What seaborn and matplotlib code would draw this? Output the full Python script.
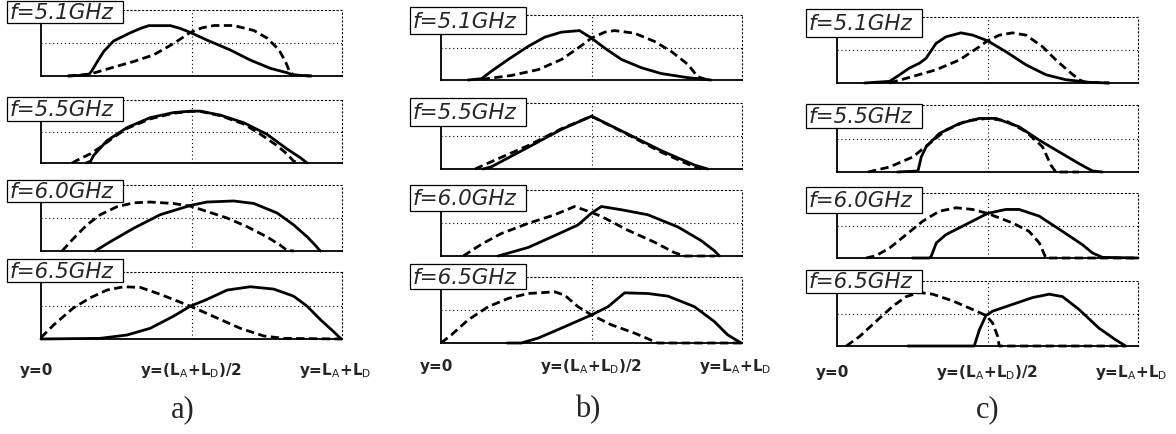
import matplotlib
matplotlib.use("Agg")
import matplotlib.pyplot as plt
import pandas as pd
import seaborn as sns
from matplotlib.patches import Rectangle

sns.set_style("white")
plt.rcParams["font.family"] = ["DejaVu Sans"]
plt.rcParams["mathtext.fontset"] = "dejavusans"

# ---------------------------------------------------------------- labels
FREQ_LABELS = ["f=5.1GHz", "f=5.5GHz", "f=6.0GHz", "f=6.5GHz"]
PANEL_LETTERS = ["a)", "b)", "c)"]
POSITION_LABELS = ["y=0", r"y=(L$_\mathrm{A}$+L$_\mathrm{D}$)/2", r"y=L$_\mathrm{A}$+L$_\mathrm{D}$"]

# ---------------------------------------------------------------- panel a
a51_solid_x = [0.09, 0.158, 0.169, 0.186, 0.208, 0.241, 0.297, 0.33, 0.358, 0.43, 0.463, 0.496, 0.551, 0.629, 0.695, 0.762, 0.817, 0.839, 0.895]
a51_solid_y = [0.0, 0.015, 0.08, 0.21, 0.37, 0.53, 0.655, 0.72, 0.763, 0.763, 0.72, 0.66, 0.545, 0.394, 0.242, 0.116, 0.05, 0.015, 0.0]
a51_dash_x = [0.09, 0.164, 0.231, 0.308, 0.374, 0.44, 0.496, 0.535, 0.575, 0.64, 0.707, 0.751, 0.79, 0.812, 0.826, 0.84, 0.9]
a51_dash_y = [0.0, 0.03, 0.12, 0.22, 0.32, 0.49, 0.66, 0.73, 0.765, 0.765, 0.69, 0.575, 0.4, 0.22, 0.065, 0.015, 0.0]

a55_solid_x = [0.15, 0.165, 0.175, 0.219, 0.286, 0.363, 0.44, 0.496, 0.529, 0.596, 0.673, 0.75, 0.817, 0.862, 0.884]
a55_solid_y = [0.0, 0.03, 0.12, 0.354, 0.5625, 0.72, 0.8, 0.823, 0.823, 0.76, 0.64, 0.458, 0.224, 0.083, 0.0]
a55_dash_x = [0.103, 0.13, 0.164, 0.197, 0.241, 0.286, 0.363, 0.44, 0.496, 0.529, 0.596, 0.673, 0.729, 0.784, 0.817, 0.839, 0.856]
a55_dash_y = [0.0, 0.068, 0.146, 0.25, 0.406, 0.55, 0.70, 0.79, 0.82, 0.82, 0.75, 0.62, 0.458, 0.276, 0.146, 0.03, 0.0]

a60_solid_x = [0.18, 0.23, 0.308, 0.396, 0.496, 0.551, 0.64, 0.707, 0.784, 0.839, 0.884, 0.911, 0.928]
a60_solid_y = [0.0, 0.14, 0.345, 0.55, 0.69, 0.742, 0.758, 0.72, 0.577, 0.397, 0.216, 0.088, 0.0]
a60_dash_x = [0.07, 0.108, 0.153, 0.197, 0.252, 0.308, 0.363, 0.44, 0.496, 0.551, 0.618, 0.684, 0.75, 0.795, 0.817, 0.84]
a60_dash_y = [0.0, 0.19, 0.397, 0.55, 0.67, 0.73, 0.742, 0.72, 0.68, 0.6, 0.5, 0.37, 0.216, 0.088, 0.01, 0.0]

a65_solid_x = [0.0, 0.197, 0.286, 0.363, 0.44, 0.496, 0.551, 0.618, 0.695, 0.773, 0.839, 0.884, 0.928, 0.972, 0.997]
a65_solid_y = [0.0, 0.01, 0.06, 0.16, 0.34, 0.49, 0.59, 0.73, 0.78, 0.745, 0.64, 0.49, 0.29, 0.11, 0.0]
a65_dash_x = [0.0, 0.042, 0.108, 0.164, 0.219, 0.275, 0.33, 0.396, 0.496, 0.585, 0.662, 0.74, 0.806, 1.0]
a65_dash_y = [0.02, 0.21, 0.465, 0.616, 0.73, 0.78, 0.77, 0.667, 0.49, 0.313, 0.16, 0.045, 0.01, 0.0]

# ---------------------------------------------------------------- panel b
b51_solid_x = [0.09, 0.135, 0.168, 0.223, 0.29, 0.345, 0.4, 0.46, 0.5, 0.544, 0.6, 0.665, 0.731, 0.82, 0.897]
b51_solid_y = [0.0, 0.02, 0.137, 0.315, 0.518, 0.66, 0.736, 0.76, 0.645, 0.49, 0.315, 0.19, 0.1, 0.036, 0.0]
b51_dash_x = [0.135, 0.234, 0.323, 0.4, 0.455, 0.5, 0.544, 0.577, 0.643, 0.709, 0.765, 0.82, 0.853, 0.886]
b51_dash_y = [0.01, 0.07, 0.16, 0.315, 0.49, 0.645, 0.736, 0.76, 0.72, 0.594, 0.44, 0.24, 0.05, 0.0]

b55_solid_x = [0.14, 0.168, 0.29, 0.4, 0.5, 0.621, 0.731, 0.842, 0.886]
b55_solid_y = [0.0, 0.035, 0.33, 0.6, 0.8, 0.53, 0.28, 0.06, 0.0]
b55_dash_x = [0.113, 0.179, 0.29, 0.4, 0.5, 0.621, 0.731, 0.82, 0.864]
b55_dash_y = [0.0, 0.134, 0.356, 0.61, 0.8, 0.52, 0.257, 0.074, 0.0]

b60_solid_x = [0.19, 0.29, 0.378, 0.455, 0.5, 0.533, 0.6, 0.687, 0.787, 0.864, 0.908, 0.925]
b60_solid_y = [0.0, 0.13, 0.31, 0.47, 0.65, 0.75, 0.7, 0.625, 0.44, 0.234, 0.08, 0.0]
b60_dash_x = [0.074, 0.135, 0.2, 0.29, 0.378, 0.444, 0.5, 0.533, 0.621, 0.709, 0.776, 0.809, 0.91]
b60_dash_y = [0.0, 0.18, 0.34, 0.495, 0.625, 0.75, 0.66, 0.6, 0.39, 0.21, 0.05, 0.0, 0.0]

b65_solid_x = [0.22, 0.267, 0.323, 0.4, 0.5, 0.555, 0.61, 0.687, 0.754, 0.842, 0.908, 0.952, 0.997]
b65_solid_y = [0.0, 0.0, 0.075, 0.225, 0.425, 0.55, 0.76, 0.75, 0.71, 0.55, 0.325, 0.125, 0.0]
b65_dash_x = [0.0, 0.035, 0.09, 0.157, 0.223, 0.29, 0.378, 0.411, 0.455, 0.5, 0.566, 0.643, 0.72, 1.0]
b65_dash_y = [0.0, 0.125, 0.35, 0.55, 0.675, 0.75, 0.775, 0.725, 0.55, 0.425, 0.275, 0.15, 0.0, 0.0]

# ---------------------------------------------------------------- panel c
c51_solid_x = [0.092, 0.175, 0.208, 0.24, 0.274, 0.296, 0.329, 0.362, 0.412, 0.451, 0.5, 0.561, 0.628, 0.694, 0.76, 0.838, 0.904]
c51_solid_y = [0.0, 0.025, 0.125, 0.225, 0.3, 0.375, 0.6, 0.7, 0.76, 0.725, 0.64, 0.475, 0.275, 0.125, 0.05, 0.01, 0.0]
c51_dash_x = [0.175, 0.252, 0.329, 0.407, 0.473, 0.5, 0.539, 0.583, 0.628, 0.683, 0.727, 0.771, 0.804, 0.826, 0.904]
c51_dash_y = [0.0, 0.1, 0.2, 0.35, 0.55, 0.64, 0.725, 0.76, 0.725, 0.55, 0.35, 0.175, 0.05, 0.01, 0.0]

c55_solid_x = [0.2, 0.269, 0.28, 0.296, 0.34, 0.407, 0.473, 0.528, 0.605, 0.672, 0.738, 0.804, 0.849, 0.882]
c55_solid_y = [0.0, 0.015, 0.225, 0.375, 0.575, 0.725, 0.8, 0.8, 0.675, 0.475, 0.3, 0.125, 0.015, 0.0]
c55_dash_x = [0.103, 0.175, 0.252, 0.307, 0.362, 0.432, 0.5, 0.561, 0.628, 0.683, 0.711, 0.727, 0.804]
c55_dash_y = [0.0, 0.075, 0.225, 0.425, 0.625, 0.765, 0.8, 0.765, 0.6, 0.375, 0.1, 0.0, 0.0]

c60_solid_x = [0.25, 0.307, 0.313, 0.33, 0.362, 0.428, 0.5, 0.561, 0.605, 0.672, 0.749, 0.815, 0.849, 0.882, 1.0]
c60_solid_y = [0.0, 0.0, 0.026, 0.232, 0.36, 0.515, 0.686, 0.747, 0.747, 0.644, 0.41, 0.206, 0.077, 0.01, 0.0]
c60_dash_x = [0.097, 0.13, 0.175, 0.23, 0.285, 0.34, 0.396, 0.45, 0.5, 0.583, 0.638, 0.672, 0.694, 1.0]
c60_dash_y = [0.0, 0.036, 0.155, 0.36, 0.567, 0.72, 0.773, 0.747, 0.686, 0.54, 0.41, 0.232, 0.0, 0.0]

c65_solid_x = [0.235, 0.456, 0.473, 0.495, 0.517, 0.583, 0.65, 0.705, 0.749, 0.804, 0.87, 0.926, 0.959]
c65_solid_y = [0.0, 0.0, 0.25, 0.47, 0.536, 0.64, 0.745, 0.797, 0.76, 0.5625, 0.276, 0.094, 0.0]
c65_dash_x = [0.031, 0.075, 0.13, 0.186, 0.23, 0.274, 0.318, 0.385, 0.45, 0.495, 0.517, 0.534, 0.539, 0.959]
c65_dash_y = [0.0, 0.146, 0.38, 0.615, 0.76, 0.823, 0.797, 0.693, 0.5625, 0.47, 0.354, 0.146, 0.0, 0.0]

CURVES = {
    "a": [(a51_solid_x, a51_solid_y, a51_dash_x, a51_dash_y),
          (a55_solid_x, a55_solid_y, a55_dash_x, a55_dash_y),
          (a60_solid_x, a60_solid_y, a60_dash_x, a60_dash_y),
          (a65_solid_x, a65_solid_y, a65_dash_x, a65_dash_y)],
    "b": [(b51_solid_x, b51_solid_y, b51_dash_x, b51_dash_y),
          (b55_solid_x, b55_solid_y, b55_dash_x, b55_dash_y),
          (b60_solid_x, b60_solid_y, b60_dash_x, b60_dash_y),
          (b65_solid_x, b65_solid_y, b65_dash_x, b65_dash_y)],
    "c": [(c51_solid_x, c51_solid_y, c51_dash_x, c51_dash_y),
          (c55_solid_x, c55_solid_y, c55_dash_x, c55_dash_y),
          (c60_solid_x, c60_solid_y, c60_dash_x, c60_dash_y),
          (c65_solid_x, c65_solid_y, c65_dash_x, c65_dash_y)],
}

# ---------------------------------------------------------------- layout (pixels)
W, H = 1176, 434
AX_W = 301
AX_LEFT = {"a": 41, "b": 441, "c": 837}
AX_ROWS = {"a": [(10, 76), (100, 163), (185, 251), (272, 339)],
           "b": [(15, 80), (103, 169), (190, 256), (277, 343)],
           "c": [(17, 83), (105, 172), (193, 258), (281, 346)]}
BOX_W = 116
BOX_LEFT = {"a": 7, "b": 410, "c": 806}
BOX_ROWS = {"a": [(1, 23), (97, 121), (180, 202), (259, 282)],
            "b": [(7, 34), (98, 126), (185, 211), (264, 289)],
            "c": [(9, 37), (104, 128), (187, 213), (270, 293)]}
LABEL_ROW = {"a": 370, "b": 366, "c": 372}
LETTER_X = {"a": 183, "b": 588, "c": 988}
LETTER_Y = 410

DOT = (0, (1, 2.5))
DASH = (0, (3, 1.6))
LW = 2.0


def fx(px):
    return px / W


def fy(py):
    return 1 - py / H


fig = plt.figure(figsize=(W / 100, H / 100), dpi=100)
fig.patch.set_facecolor("white")

for p_i, panel in enumerate(["a", "b", "c"]):
    left = AX_LEFT[panel]
    for r_i, (top, bottom) in enumerate(AX_ROWS[panel]):
        ax = fig.add_axes([fx(left), fy(bottom), AX_W / W, (bottom - top) / H])
        sx, sy, dx, dy = CURVES[panel][r_i]
        sns.lineplot(data=pd.DataFrame({"pos": dx, "field": dy}), x="pos", y="field",
                     ax=ax, color="black", lw=LW, linestyle=DASH, sort=False,
                     estimator=None, clip_on=False, zorder=3)
        sns.lineplot(data=pd.DataFrame({"pos": sx, "field": sy}), x="pos", y="field",
                     ax=ax, color="black", lw=LW, sort=False,
                     estimator=None, clip_on=False, zorder=4)
        ax.set_xlim(0, 1)
        ax.set_ylim(0, 1)
        ax.set_xlabel("")
        ax.set_ylabel("")
        ax.set_xticks([0.5])
        ax.set_yticks([0.5])
        ax.set_axisbelow(True)
        ax.grid(True, color="black", lw=0.8, linestyle=DOT)
        ax.tick_params(length=0, labelbottom=False, labelleft=False)
        for side in ("left", "bottom"):
            ax.spines[side].set_color("black")
            ax.spines[side].set_linewidth(1.3)
        for side in ("top", "right"):
            ax.spines[side].set_color("black")
            ax.spines[side].set_linewidth(0.8)
            ax.spines[side].set_linestyle(DOT)

        # frequency tag
        bt, bb = BOX_ROWS[panel][r_i]
        bl = BOX_LEFT[panel]
        fig.add_artist(Rectangle((fx(bl), fy(bb)), BOX_W / W, (bb - bt) / H,
                                 transform=fig.transFigure, facecolor="white",
                                 edgecolor="black", lw=0.9, zorder=10))
        fig.text(fx(bl + 3), fy((bt + bb) / 2 + 1), FREQ_LABELS[r_i], ha="left",
                 va="center", fontsize=15.5, style="italic", zorder=11)

    # position labels under the bottom axes
    ly = LABEL_ROW[panel]
    for xpos, txt in zip([left - 4, left + AX_W / 2, left + 294], POSITION_LABELS):
        fig.text(fx(xpos), fy(ly), txt, ha="center", va="center",
                 fontsize=11, fontweight="bold")

    fig.text(fx(LETTER_X[panel]), fy(LETTER_Y), PANEL_LETTERS[p_i], ha="center",
             va="center", fontsize=22, family="Liberation Serif")

fig.savefig("out.png", dpi=100, facecolor="white")
